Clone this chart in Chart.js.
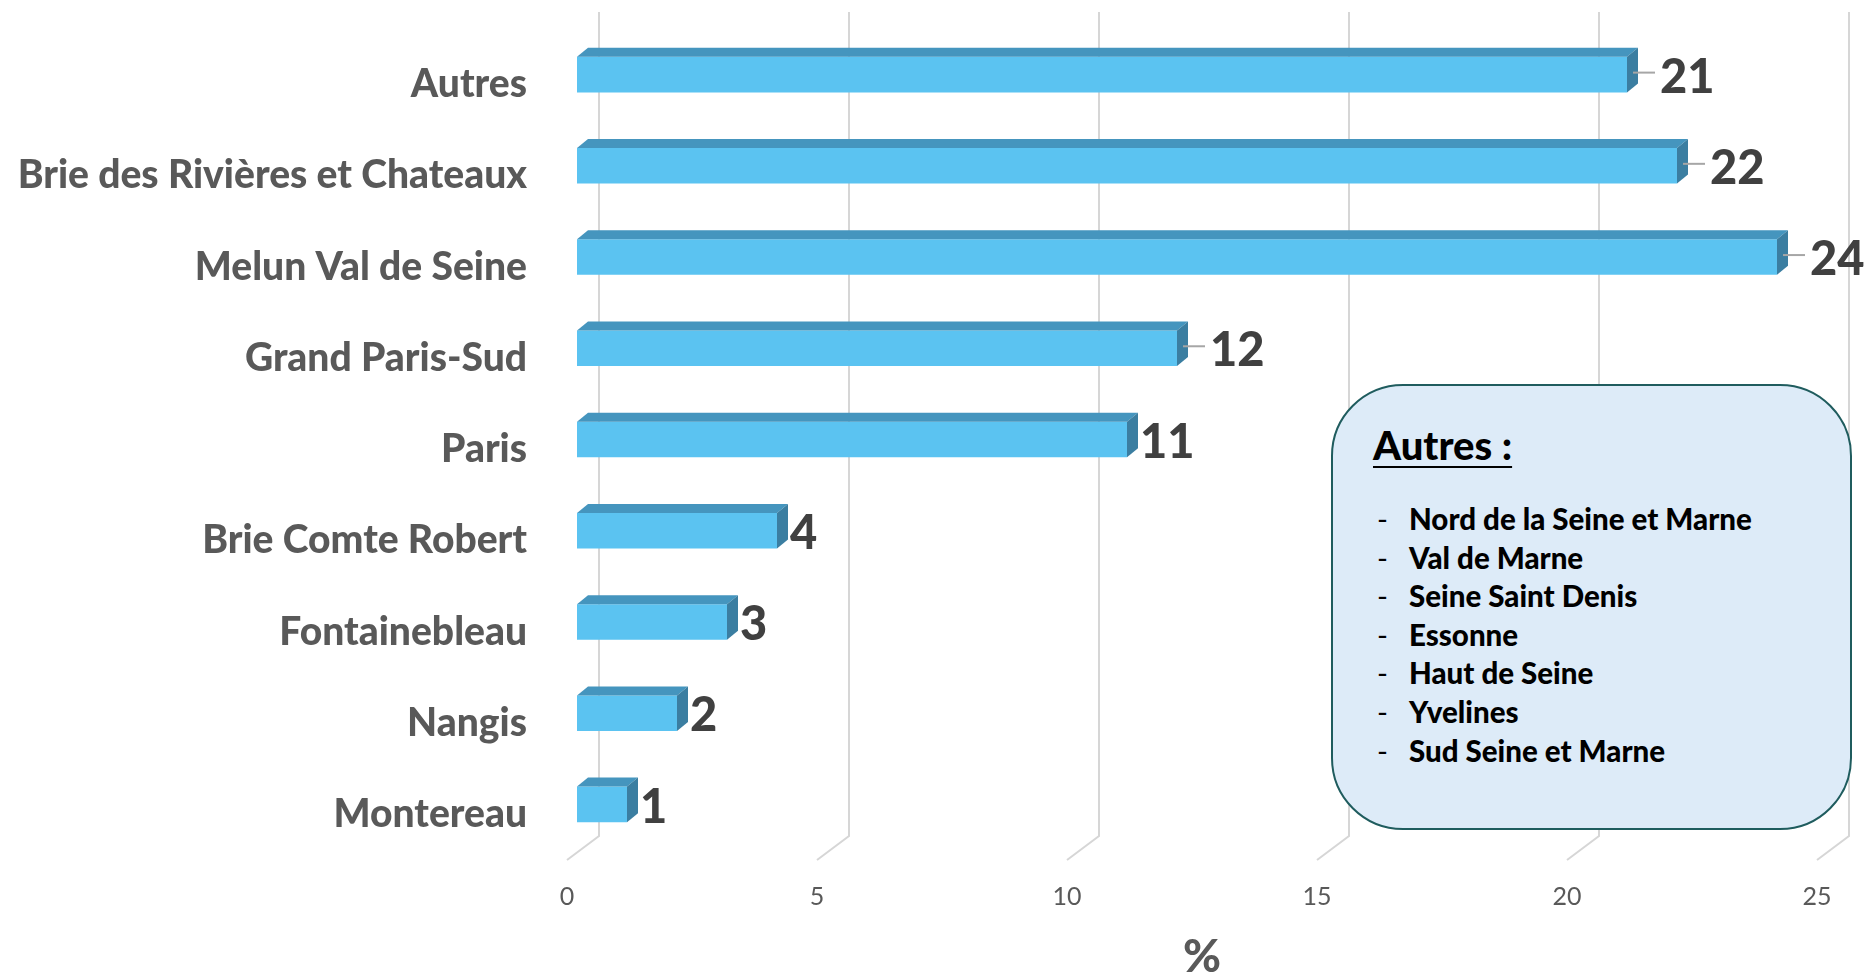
<!DOCTYPE html>
<html>
<head>
<meta charset="utf-8">
<script src="https://cdn.jsdelivr.net/npm/chart.js@4.4.0/dist/chart.umd.min.js"></script>
<style>
  html, body { margin: 0; padding: 0; background: #fff; }
  #wrap { position: relative; width: 1872px; height: 980px; }
  #note {
    position: absolute; left: 1331px; top: 384px; width: 521px; height: 446px;
    box-sizing: border-box; border: 2.5px solid #1f5c5e; border-radius: 72px;
    background: #ddebf8; font-family: Lato, "Open Sans", sans-serif; font-weight: 900; color: #000;
  }
  #note .title {
    position: absolute; left: 40px; top: 36px; font-size: 40px; line-height: 46px;
    text-decoration: underline; text-decoration-thickness: 2px; text-underline-offset: 6px;
  }
  #note ul { position: absolute; left: 44px; top: 114px; margin: 0; padding: 0; list-style: none; }
  #note li { font-size: 29.5px; line-height: 38.6px; white-space: nowrap; }
  #note li span { display: inline-block; width: 32px; font-weight: normal; }
</style>
</head>
<body>
<div id="wrap">
  <canvas id="chart" width="1872" height="980"></canvas>
  <div id="note">
    <div class="title">Autres :</div>
    <ul id="others"></ul>
  </div>
</div>
<script>
// categories, top to bottom
const categories = ['Autres', 'Brie des Rivières et Chateaux', 'Melun Val de Seine', 'Grand Paris-Sud',
  'Paris', 'Brie Comte Robert', 'Fontainebleau', 'Nangis', 'Montereau'];
const percentages = [21, 22, 24, 12, 11, 4, 3, 2, 1];
const xTicks = [0, 5, 10, 15, 20, 25];
const otherAreas = ['Nord de la Seine et Marne', 'Val de Marne', 'Seine Saint Denis', 'Essonne',
  'Haut de Seine', 'Yvelines', 'Sud Seine et Marne'];

// labels that sit further out with a small leader line
const withLeader = [true, true, true, true, false, false, false, false, false];

document.getElementById('others').innerHTML =
  otherAreas.map(a => '<li><span>-</span>' + a + '</li>').join('');

const DX = 11, DY = 9;

// back wall gridlines with the slanted floor part
const gridPlugin = {
  id: 'grid3d',
  beforeDatasetsDraw(chart) {
    const { ctx, chartArea, scales } = chart;
    ctx.save();
    ctx.strokeStyle = '#d6d6d6';
    ctx.lineWidth = 2;
    scales.x.ticks.forEach(t => {
      const px = scales.x.getPixelForValue(t.value);
      ctx.beginPath();
      ctx.moveTo(px + 22, chartArea.top - 17);
      ctx.lineTo(px + 22, chartArea.bottom - 14);
      ctx.lineTo(px - 10, chartArea.bottom + 10);
      ctx.stroke();
    });
    ctx.restore();
  }
};

// top and side faces, plus value labels
const barPlugin = {
  id: 'bars3d',
  afterDatasetsDraw(chart) {
    const { ctx } = chart;
    const meta = chart.getDatasetMeta(0);
    ctx.save();
    meta.data.forEach((bar, i) => {
      const { x, y, base, height } = bar.getProps(['x', 'y', 'base', 'height'], true);
      const t = y - height / 2, b = y + height / 2;
      ctx.fillStyle = '#4595be';
      ctx.beginPath();
      ctx.moveTo(base, t);
      ctx.lineTo(base + DX, t - DY);
      ctx.lineTo(x + DX, t - DY);
      ctx.lineTo(x, t);
      ctx.closePath();
      ctx.fill();
      ctx.fillStyle = '#3b7ea1';
      ctx.beginPath();
      ctx.moveTo(x, t);
      ctx.lineTo(x + DX, t - DY);
      ctx.lineTo(x + DX, b - DY);
      ctx.lineTo(x, b);
      ctx.closePath();
      ctx.fill();

      let lx = x + 13;
      if (withLeader[i]) {
        ctx.strokeStyle = '#a6a6a6';
        ctx.lineWidth = 2;
        ctx.beginPath();
        ctx.moveTo(x + 6, y - 2);
        ctx.lineTo(x + 28, y - 2);
        ctx.stroke();
        lx = x + 33;
      }
      ctx.fillStyle = '#404040';
      ctx.font = '900 47px Lato, "Open Sans", sans-serif';
      ctx.textAlign = 'left';
      ctx.textBaseline = 'middle';
      ctx.fillText(String(percentages[i]), lx, y + 3);
    });
    ctx.restore();
  }
};

new Chart(document.getElementById('chart'), {
  type: 'bar',
  data: {
    labels: categories,
    datasets: [{
      data: percentages,
      backgroundColor: '#5bc3f1',
      borderWidth: 0,
      barPercentage: 0.39,
      categoryPercentage: 1
    }]
  },
  options: {
    indexAxis: 'y',
    responsive: false,
    animation: false,
    events: [],
    layout: { autoPadding: false, padding: { top: 29, right: 45, left: 0, bottom: 0 } },
    plugins: { legend: { display: false }, tooltip: { enabled: false } },
    scales: {
      x: {
        min: 0, max: 25,
        afterBuildTicks(scale) { scale.ticks = xTicks.map(v => ({ value: v })); },
        afterFit(scale) {
          scale.height = 130;
          scale.paddingLeft = 0; scale.paddingRight = 0;
        },
        grid: { display: false, drawTicks: false },
        border: { display: false },
        ticks: {
          color: '#595959', padding: 32, labelOffset: -10,
          font: { family: 'Lato', size: 25 }
        },
        title: {
          display: true, text: '%', color: '#595959',
          font: { family: 'Lato', size: 46, weight: 900, lineHeight: 1 },
          padding: { top: 0, bottom: 0 }
        }
      },
      y: {
        afterFit(scale) {
          scale.width = 577;
          scale.paddingTop = 0; scale.paddingBottom = 0;
        },
        grid: { display: false, drawTicks: false },
        border: { display: false },
        ticks: {
          color: '#595959', padding: 50, labelOffset: 10,
          font: { family: 'Lato', size: 39, weight: 900 }
        }
      }
    }
  },
  plugins: [gridPlugin, barPlugin]
});
</script>
</body>
</html>
